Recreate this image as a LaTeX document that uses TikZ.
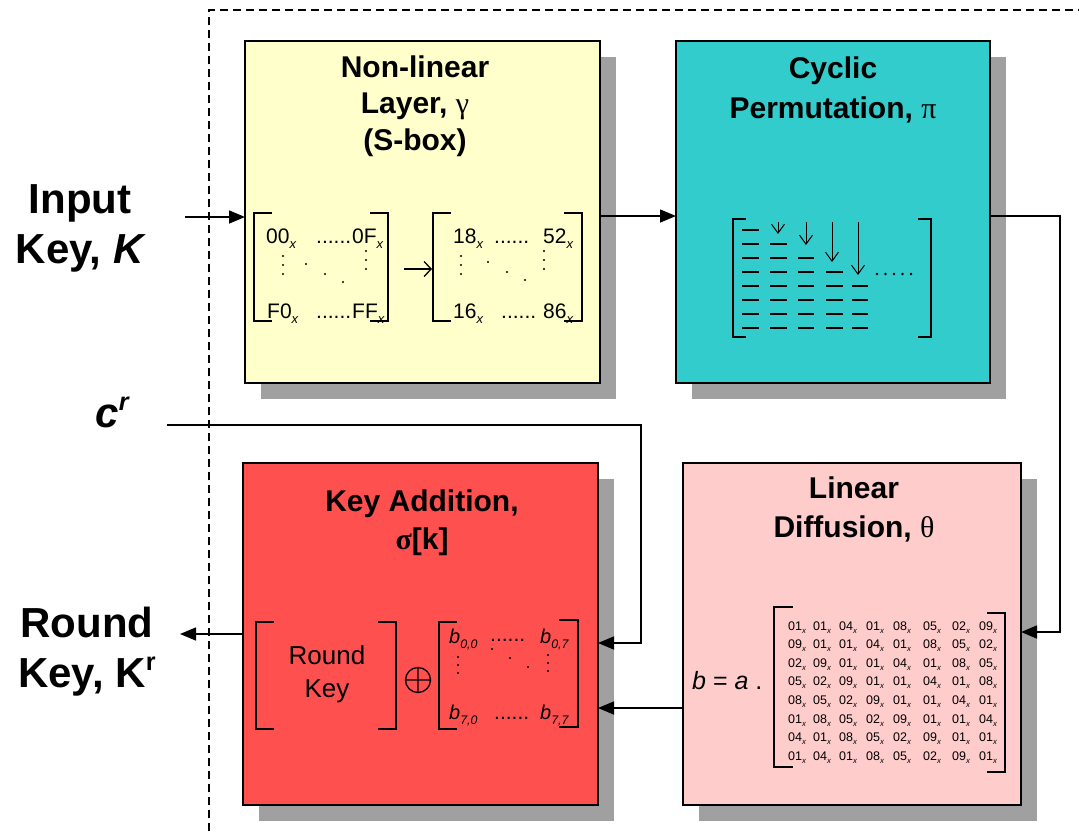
\documentclass[tikz,border=0pt]{standalone}
\usepackage{fontspec}
\setmainfont{Liberation Sans}
\newfontfamily\grk{Liberation Serif}
\usetikzlibrary{arrows.meta,shadows,calc}
\definecolor{yelb}{RGB}{255,255,204}
\definecolor{tealb}{RGB}{51,204,204}
\definecolor{redb}{RGB}{255,80,80}
\definecolor{pinkb}{RGB}{255,204,204}
\definecolor{shade}{RGB}{160,160,160}
\newcommand\fs[2]{\fontsize{#1}{#2}\selectfont}
\newcommand\hx[1]{#1\raisebox{-0.25em}{\scalebox{0.62}{\itshape x}}}
\newcommand\bij[1]{\textit{b}\raisebox{-0.28em}{\scalebox{0.62}{\itshape #1}}}
\newcommand\lbrk[4]{\draw[brk] (#1+#4,#2) -- (#1,#2) -- (#1,#3) -- (#1+#4,#3);}
\newcommand\rbrk[4]{\draw[brk] (#1-#4,#2) -- (#1,#2) -- (#1,#3) -- (#1-#4,#3);}
\newcommand\vdts[3]{\foreach \k in {0,1,2} \fill (#1,#2+\k*#3) circle[radius=1.1pt];}
\begin{document}
\begin{tikzpicture}[x=1pt,y=-1pt,
  box/.style={draw=black,line width=1.8pt,anchor=north west,inner sep=0pt,outer sep=0pt,
    drop shadow={shadow xshift=16pt,shadow yshift=-16pt,fill=shade,opacity=1,draw=none}},
  title/.style={font=\bfseries\fs{30}{37},anchor=base,inner sep=0pt},
  big/.style={font=\bfseries\fs{42}{50},anchor=base,inner sep=0pt},
  ent/.style={font=\fs{21}{25},anchor=base west,inner sep=0pt},
  sml/.style={font=\fs{12.5}{15},anchor=base west,inner sep=0pt},
  brk/.style={line width=1.8pt},
  arr/.style={line width=1.5pt,-{Triangle[length=16pt,width=13pt]}},
  dsh/.style={line width=2pt},
  darr/.style={line width=1pt,-{Straight Barb[length=9pt,width=13pt]}}]
\useasboundingbox (0,0) rectangle (1079,831);
\fill[white] (0,0) rectangle (1079,831);
% dashed frame
\draw[line width=1.4pt,dash pattern=on 8pt off 5pt] (209,831) -- (209,10) -- (1079,10);
% boxes
\node[box,fill=yelb,minimum width=355pt,minimum height=342pt] (yb) at (245,41) {};
\node[box,fill=tealb,minimum width=314pt,minimum height=342pt] (tb) at (676,41) {};
\node[box,fill=redb,minimum width=355pt,minimum height=342pt] (rb) at (243,463) {};
\node[box,fill=pinkb,minimum width=338pt,minimum height=342pt] (pb) at (683,463) {};
% titles
\node[title] (yt1) at (415,77) {Non-linear};
\node[title] (yt2) at (415,113) {Layer, {\grk\mdseries γ}};
\node[title] (yt3) at (415,150) {(S-box)};
\node[title] (tt1) at (833,78) {Cyclic};
\node[title] (tt2) at (833,118) {Permutation, {\grk\mdseries π}};
\node[title] (rt1) at (422,511) {Key Addition,};
\node[title] (rt2) at (422,549) {{\grk σ}[k]};
\node[title] (pt1) at (854,498) {Linear};
\node[title] (pt2) at (854,537) {Diffusion, {\grk\mdseries θ}};
% left labels
\node[big] (in1) at (80,213) {Input};
\node[big] (in2) at (81,263) {Key, \textit{K}};
\node[big] (cr) at (112,427) {\textit{c\raisebox{0.4em}{\scalebox{0.6}{r}}}};
\node[big] (rk1) at (87,637) {Round};
\node[big] (rk2) at (87,687) {Key, K\raisebox{0.4em}{\scalebox{0.6}{r}}};
% ---- S-box matrices
\lbrk{254}{213}{321}{18} \rbrk{388}{213}{321}{18}
\node[ent] (a1) at (266,243) {\hx{00}};
\node[ent] (a2) at (316,243) {......};
\node[ent] (a3) at (352,243) {\hx{0F}};
\node[ent] (a4) at (267,318) {F\hx{0}};
\node[ent] (a5) at (316,318) {......};
\node[ent] (a6) at (352,318) {\hx{FF}};
\vdts{283}{256}{9} \vdts{366}{251}{9}
\fill (306,264) circle[radius=1.1pt] (325,274) circle[radius=1.1pt] (343,282) circle[radius=1.1pt];
\coordinate (sa) at (404,269); \coordinate (sb) at (432,269);
\draw[line width=1.3pt,-{Straight Barb[length=7pt,width=15pt]}] (sa) -- (sb);
\lbrk{433}{213}{321}{18} \rbrk{582}{213}{321}{18}
\node[ent] (b1) at (453,243) {\hx{18}};
\node[ent] (b2) at (494,243) {......};
\node[ent] (b3) at (543,243) {\hx{52}};
\node[ent] (b4) at (453,318) {\hx{16}};
\node[ent] (b5) at (501,318) {......};
\node[ent] (b6) at (543,318) {\hx{86}};
\vdts{461}{256}{9} \vdts{544}{251}{9}
\fill (488,262) circle[radius=1.1pt] (507,272) circle[radius=1.1pt] (525,280) circle[radius=1.1pt];
% ---- cyclic permutation
\lbrk{733}{219}{337}{13} \rbrk{931}{219}{337}{13}
\foreach \xa/\xb/\st in {742/759/0,770/787/1,798/814/2,826/843/3,852/868/4}{
  \foreach \r in {\st,...,7}{\draw[dsh] (\xa,230+14*\r) -- (\xb,230+14*\r);}}
\foreach \xx/\yy in {778/234,806/245,832/262,858/275}{
  \coordinate (pa\xx) at (\xx,222); \coordinate (pe\xx) at (\xx,\yy);
  \draw[darr] (pa\xx) -- (pe\xx);}
\foreach \k in {0,...,4} \fill (877+8.5*\k,274) circle[radius=1.3pt];
% ---- linear diffusion
\node[anchor=base west,inner sep=0pt,font=\fs{25}{30}] (beq) at (692,689) {\textit{b} = \textit{a} .};
\lbrk{774}{607}{767}{19} \rbrk{1005}{613}{772}{18}
\newcommand\mrow[2]{\foreach \v [count=\j] in {#2}{
  \pgfmathsetmacro\xx{{788,813,839,866,893,923,952,979}[\j-1]}
  \node[sml] (m-#1-\j) at (\xx,630+18.6*#1) {\hx{\v}};}}
\mrow{0}{01,01,04,01,08,05,02,09}
\mrow{1}{09,01,01,04,01,08,05,02}
\mrow{2}{02,09,01,01,04,01,08,05}
\mrow{3}{05,02,09,01,01,04,01,08}
\mrow{4}{08,05,02,09,01,01,04,01}
\mrow{5}{01,08,05,02,09,01,01,04}
\mrow{6}{04,01,08,05,02,09,01,01}
\mrow{7}{01,04,01,08,05,02,09,01}
% ---- key addition
\lbrk{256}{622}{729}{18} \rbrk{396}{622}{729}{18}
\node[anchor=base,inner sep=0pt,font=\fs{26}{31}] (rk) at (327,664) {Round};
\node[anchor=base,inner sep=0pt,font=\fs{26}{31}] (rk2b) at (327,697) {Key};
\draw[line width=1.3pt] (418,680) circle[radius=12.5pt] (405.5,680) -- (430.5,680) (418,667.5) -- (418,692.5);
\lbrk{439}{622}{729}{18} \rbrk{578}{620}{727}{19}
\node[ent,font=\fs{20}{24}] (c1) at (449,643) {\bij{0,0}};
\node[ent] (c2) at (490,641) {......};
\node[ent,font=\fs{20}{24}] (c3) at (540,643) {\bij{0,7}};
\node[ent,font=\fs{20}{24}] (c4) at (449,719) {\bij{7,0}};
\node[ent] (c5) at (494,719) {......};
\node[ent,font=\fs{20}{24}] (c6) at (540,719) {\bij{7,7}};
\vdts{458}{657}{8} \vdts{548}{655}{8}
\fill (492,649) circle[radius=1.1pt] (510,658) circle[radius=1.1pt] (528,667) circle[radius=1.1pt];
% ---- connectors
\coordinate (inS) at (185,217);
\draw[arr] (inS) -- (inS -| yb.west);
\draw[arr] ($(yb.east)+(0,4)$) -- ($(tb.west)+(0,4)$);
\coordinate (tc) at (1060,216);
\draw[arr] ($(tb.east)+(0,4)$) -- (tc) |- ($(pb.north east)+(0,169)$);
\draw[arr] ($(pb.west)+(0,74)$) -- ($(rb.east)+(0,74)$);
\coordinate (crS) at (167,425); \coordinate (crC) at (641,425);
\draw[arr] (crS) -- (crC) |- ($(rb.east)+(0,9)$);
\coordinate (rkE) at (180,634);
\draw[arr] (rb.west) -- (rkE);
\end{tikzpicture}
\end{document}
